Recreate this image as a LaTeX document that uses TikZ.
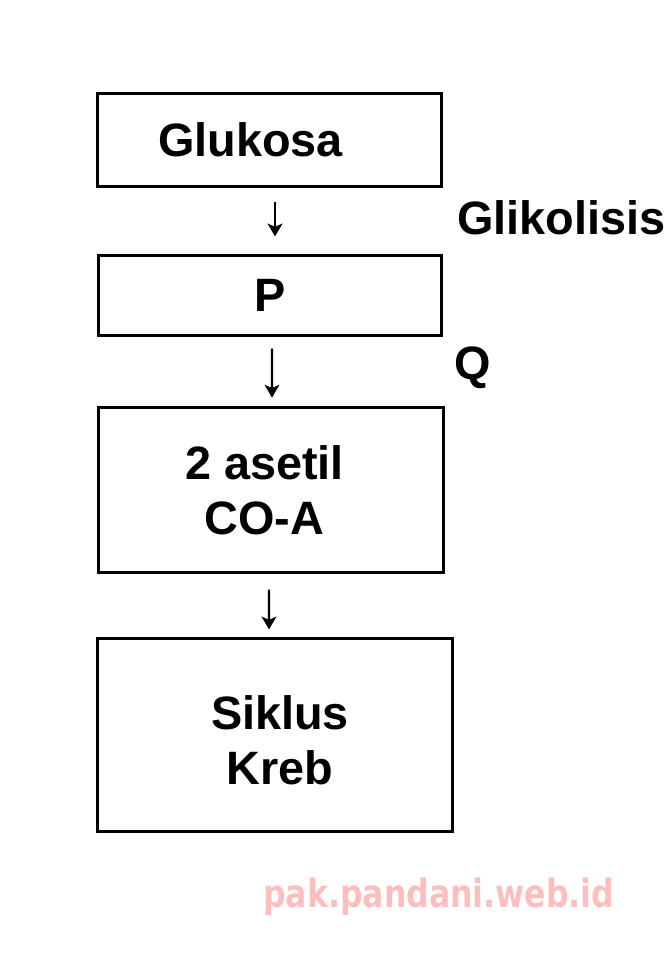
\documentclass[tikz,border=0pt]{standalone}
\usepackage{fontspec}
\setmainfont{Liberation Sans}
\newfontfamily\wmfont[FakeStretch=0.81]{DejaVu Sans}
\usepackage{tikz}
\usetikzlibrary{arrows.meta}
\definecolor{merahmuda}{RGB}{255,190,190}
\newcommand{\besar}{\fontsize{33.3pt}{39.1pt}\selectfont\bfseries}
\tikzset{
    kotak/.style={draw=black, line width=2.1pt, rectangle, inner sep=0pt, font=\besar},
    panah/.style={-{Stealth[length=0.32cm, width=0.37cm, inset=0.08cm]}, line width=1.5pt},
    tulisan/.style={anchor=base west, inner sep=0pt, font=\besar}
}

\begin{document}
\begin{tikzpicture}[x=0.025cm, y=-0.025cm]
    \useasboundingbox (0,0) rectangle (665,977);
    \node[kotak, minimum width=344*0.025cm, minimum height=93*0.025cm] (glukosa) at (269.5,140) {Glukosa\rule{0.95cm}{0pt}};
    \node[kotak, minimum width=343*0.025cm, minimum height=80*0.025cm] (p) at (270,295.5) {P};
    \node[kotak, align=center, minimum width=345*0.025cm, minimum height=165*0.025cm] (asetil) at (271,490) {2 asetil\rule{0.33cm}{0pt}\\CO-A\rule{0.33cm}{0pt}};
    \node[kotak, align=center, minimum width=355*0.025cm, minimum height=193*0.025cm] (kreb) at (275,735) {\rule{0.25cm}{0pt}\rule{0pt}{31.4pt}Siklus\\\rule{0.25cm}{0pt}Kreb};
    \node[tulisan] (glikolisis) at (457,235) {Glikolisis};
    \node[tulisan] (q) at (454,379) {Q};
    \draw[panah, shorten <=0.36cm, shorten >=0.44cm] ([xshift=0.1375cm]glukosa.south) -- ([xshift=0.125cm]p.north);
    \draw[panah, shorten <=0.29cm, shorten >=0.21cm] ([xshift=0.05cm]p.south) -- ([xshift=0.025cm]asetil.north);
    \draw[panah, shorten <=0.39cm, shorten >=0.19cm] ([xshift=-0.05cm]asetil.south) -- ([xshift=-0.15cm]kreb.north);
    \node[anchor=base west, inner sep=0pt, text=merahmuda, font=\wmfont\fontsize{27.7pt}{30pt}\selectfont\bfseries] (situs) at (263,907) {pak.pandani.web.id};
\end{tikzpicture}
\end{document}
